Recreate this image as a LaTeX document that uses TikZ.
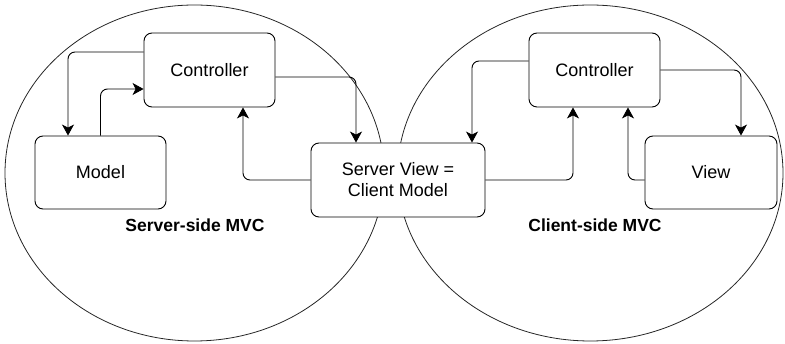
\documentclass[tikz,border=0pt]{standalone}
\usepackage{fontspec}
\setmainfont{Liberation Sans}
\usetikzlibrary{arrows.meta}
\begin{document}
\begin{tikzpicture}[x=1pt,y=-1pt,
  box/.style={draw, line width=0.9pt, rounded corners=8pt, fill=white, inner sep=0pt, font=\fontsize{18}{21}\selectfont, align=center},
  arr/.style={draw, line width=0.9pt, rounded corners=7pt, -{Stealth[length=11pt,width=12pt,inset=3pt]}},
  lbl/.style={font=\fontsize{17.5}{21}\selectfont\bfseries},
  circ/.style={draw, line width=0.8pt, gray!30!black}]
\useasboundingbox (0,0) rectangle (785,344);
\draw[circ] (194.5,173) ellipse [x radius=189.5, y radius=168];
\draw[circ] (590.3,173) ellipse [x radius=192.7, y radius=168];
\node[box, minimum width=131pt, minimum height=74pt] (lc) at (209.5,70) {Controller};
\node[box, minimum width=131pt, minimum height=73pt] (model) at (100.5,172.5) {Model};
\node[box, minimum width=174pt, minimum height=74pt] (sv) at (398,180) {Server View =\\Client Model};
\node[box, minimum width=131pt, minimum height=74pt] (rc) at (594.5,70) {Controller};
\node[box, minimum width=132pt, minimum height=73pt] (view) at (711,172.5) {View};
\node[lbl] (sl) at (195,225) {Server-side MVC};
\node[lbl] (cl) at (595,225) {Client-side MVC};
% left side
\draw[arr] ([yshift=18pt]lc.west) -| ([xshift=-32.5pt]model.north);
\draw[arr] (model.north) |- ([yshift=-19pt]lc.west);
\draw[arr] ([yshift=-7pt]lc.east) -| ([xshift=-42pt]sv.north);
\draw[arr] (sv.west) -| ([xshift=33.5pt]lc.south);
% right side
\draw[arr] ([yshift=9pt]rc.west) -| ([xshift=74pt]sv.north);
\draw[arr] (sv.east) -| ([xshift=-21.5pt]rc.south);
\draw[arr] (rc.east) -| ([xshift=30pt]view.north);
\draw[arr] ([yshift=-7.5pt]view.west) -| ([xshift=33.5pt]rc.south);
\end{tikzpicture}
\end{document}
